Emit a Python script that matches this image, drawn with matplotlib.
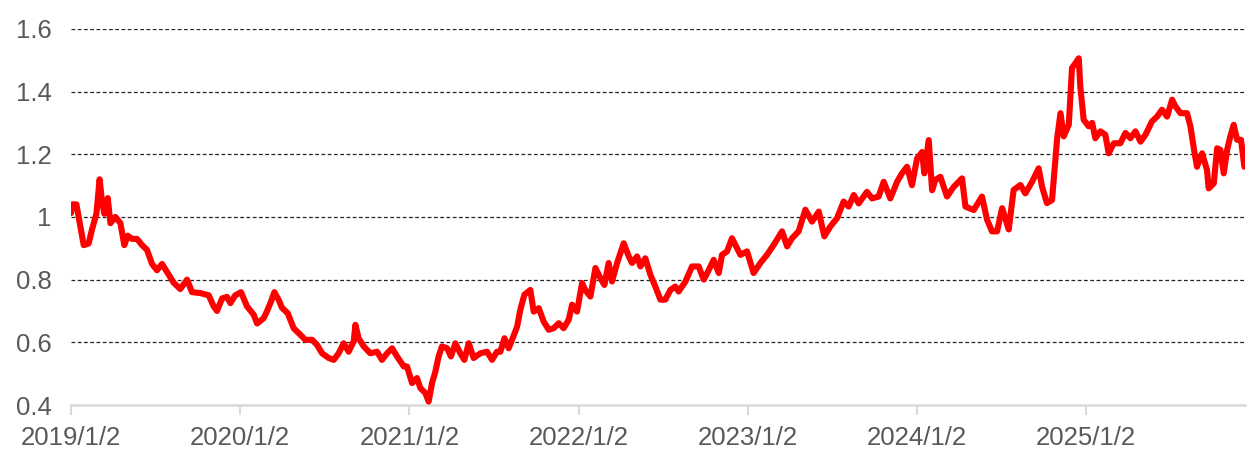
import matplotlib
matplotlib.use('Agg')
import matplotlib.pyplot as plt

# x = years since 2019/1/2, y = series value
t_years = [
    0.000, 0.006, 0.032, 0.045, 0.075, 0.104, 0.124, 0.150, 0.169, 0.183,
    0.197, 0.217, 0.233, 0.262, 0.292, 0.315, 0.335, 0.361, 0.390, 0.420,
    0.449, 0.479, 0.508, 0.538, 0.567, 0.607, 0.646, 0.686, 0.715, 0.765,
    0.814, 0.843, 0.863, 0.893, 0.922, 0.942, 0.971, 1.005, 1.040, 1.080,
    1.100, 1.139, 1.159, 1.182, 1.202, 1.228, 1.247, 1.281, 1.316, 1.356,
    1.385, 1.425, 1.454, 1.484, 1.523, 1.553, 1.582, 1.612, 1.641, 1.671,
    1.681, 1.700, 1.730, 1.769, 1.809, 1.838, 1.868, 1.898, 1.927, 1.967,
    1.986, 2.016, 2.045, 2.065, 2.095, 2.114, 2.134, 2.154, 2.173, 2.193,
    2.223, 2.246, 2.272, 2.301, 2.325, 2.351, 2.380, 2.420, 2.459, 2.489,
    2.518, 2.538, 2.562, 2.587, 2.607, 2.637, 2.656, 2.680, 2.715, 2.735,
    2.765, 2.794, 2.824, 2.853, 2.883, 2.912, 2.942, 2.962, 2.991, 3.021,
    3.040, 3.070, 3.100, 3.129, 3.153, 3.178, 3.198, 3.228, 3.267, 3.297,
    3.316, 3.346, 3.366, 3.395, 3.425, 3.454, 3.484, 3.513, 3.543, 3.572,
    3.592, 3.632, 3.671, 3.710, 3.740, 3.770, 3.799, 3.829, 3.848, 3.878,
    3.907, 3.927, 3.957, 3.996, 4.035, 4.075, 4.114, 4.154, 4.203, 4.233,
    4.262, 4.301, 4.341, 4.380, 4.420, 4.453, 4.489, 4.528, 4.567, 4.597,
    4.627, 4.656, 4.705, 4.735, 4.774, 4.804, 4.843, 4.883, 4.912, 4.942,
    4.971, 5.001, 5.031, 5.044, 5.070, 5.090, 5.109, 5.139, 5.178, 5.218,
    5.267, 5.287, 5.336, 5.385, 5.415, 5.444, 5.474, 5.504, 5.543, 5.572,
    5.612, 5.641, 5.681, 5.720, 5.740, 5.769, 5.799, 5.829, 5.849, 5.868,
    5.898, 5.917, 5.937, 5.957, 5.966, 5.986, 6.016, 6.036, 6.055, 6.085,
    6.114, 6.134, 6.164, 6.203, 6.233, 6.262, 6.292, 6.322, 6.351, 6.390,
    6.420, 6.449, 6.479, 6.509, 6.528, 6.558, 6.597, 6.617, 6.637, 6.656,
    6.686, 6.715, 6.725, 6.755, 6.775, 6.794, 6.814, 6.834, 6.853, 6.873,
    6.893, 6.916, 6.936,
]
values = [
    1.012, 1.040, 1.040, 1.000, 0.910, 0.915, 0.960, 1.010, 1.120, 1.050,
    1.010, 1.060, 0.980, 1.000, 0.980, 0.910, 0.940, 0.930, 0.930, 0.910,
    0.895, 0.850, 0.830, 0.850, 0.825, 0.790, 0.770, 0.800, 0.760, 0.757,
    0.750, 0.715, 0.700, 0.740, 0.745, 0.725, 0.750, 0.760, 0.715, 0.688,
    0.660, 0.677, 0.700, 0.730, 0.760, 0.735, 0.710, 0.693, 0.645, 0.624,
    0.608, 0.608, 0.592, 0.565, 0.550, 0.544, 0.565, 0.597, 0.570, 0.603,
    0.656, 0.613, 0.587, 0.565, 0.570, 0.544, 0.565, 0.581, 0.555, 0.523,
    0.523, 0.470, 0.486, 0.454, 0.438, 0.411, 0.470, 0.507, 0.555, 0.587,
    0.581, 0.555, 0.597, 0.565, 0.544, 0.597, 0.550, 0.565, 0.570, 0.544,
    0.570, 0.570, 0.613, 0.581, 0.608, 0.650, 0.704, 0.752, 0.767, 0.698,
    0.709, 0.666, 0.640, 0.645, 0.661, 0.645, 0.672, 0.720, 0.698, 0.789,
    0.767, 0.746, 0.837, 0.805, 0.783, 0.853, 0.794, 0.853, 0.916, 0.874,
    0.853, 0.874, 0.842, 0.868, 0.815, 0.778, 0.736, 0.736, 0.767, 0.778,
    0.762, 0.794, 0.842, 0.842, 0.800, 0.831, 0.863, 0.821, 0.879, 0.890,
    0.932, 0.911, 0.879, 0.890, 0.821, 0.853, 0.879, 0.911, 0.954, 0.906,
    0.932, 0.954, 1.023, 0.985, 1.017, 0.938, 0.970, 0.996, 1.049, 1.033,
    1.070, 1.043, 1.080, 1.059, 1.065, 1.112, 1.059, 1.112, 1.139, 1.160,
    1.101, 1.186, 1.207, 1.139, 1.245, 1.085, 1.118, 1.128, 1.065, 1.096,
    1.123, 1.033, 1.022, 1.065, 0.991, 0.954, 0.954, 1.028, 0.960, 1.086,
    1.102, 1.075, 1.112, 1.155, 1.096, 1.044, 1.054, 1.250, 1.331, 1.257,
    1.294, 1.475, 1.490, 1.506, 1.416, 1.310, 1.289, 1.300, 1.251, 1.273,
    1.262, 1.203, 1.235, 1.235, 1.268, 1.251, 1.273, 1.240, 1.262, 1.305,
    1.320, 1.342, 1.320, 1.374, 1.353, 1.331, 1.331, 1.289, 1.219, 1.160,
    1.203, 1.150, 1.091, 1.107, 1.219, 1.214, 1.139, 1.214, 1.257, 1.294,
    1.246, 1.246, 1.160,
]
tick_pos = [0, 1, 2, 3, 4, 5, 6]
tick_labels = ['2019/1/2', '2020/1/2', '2021/1/2', '2022/1/2',
               '2023/1/2', '2024/1/2', '2025/1/2']
y_ticks = [0.4, 0.6, 0.8, 1.0, 1.2, 1.4, 1.6]
y_labels = ['0.4', '0.6', '0.8', '1', '1.2', '1.4', '1.6']

plt.rcParams['font.family'] = ['Liberation Sans', 'DejaVu Sans']

fig = plt.figure(figsize=(12.57, 4.65), dpi=100)
ax = fig.add_axes([0.0565, 0.129, 0.9340, 0.809])

for yv in y_ticks[1:]:
    ax.axhline(yv, color='#222222', lw=0.9, ls=(0, (3, 2)), zorder=1)

ax.plot(t_years, values, color='#ff0000', lw=4.4, solid_joinstyle='round',
        solid_capstyle='round', zorder=3)

ax.set_xlim(0, 6.94)
ax.set_ylim(0.4, 1.6)
ax.set_xticks(tick_pos)
ax.set_xticklabels(tick_labels)
ax.set_yticks(y_ticks)
ax.set_yticklabels(y_labels)

for s in ['top', 'right', 'left']:
    ax.spines[s].set_visible(False)
ax.spines['bottom'].set_color('#d9d9d9')
ax.spines['bottom'].set_linewidth(1.8)
ax.spines['bottom'].set_zorder(2)

ax.tick_params(axis='x', colors='#595959', labelsize=18.5, length=7, width=1.5,
               color='#d9d9d9', pad=8)
ax.tick_params(axis='y', colors='#595959', labelsize=18.5, length=0, pad=14)

fig.savefig('out.png', dpi=100)
